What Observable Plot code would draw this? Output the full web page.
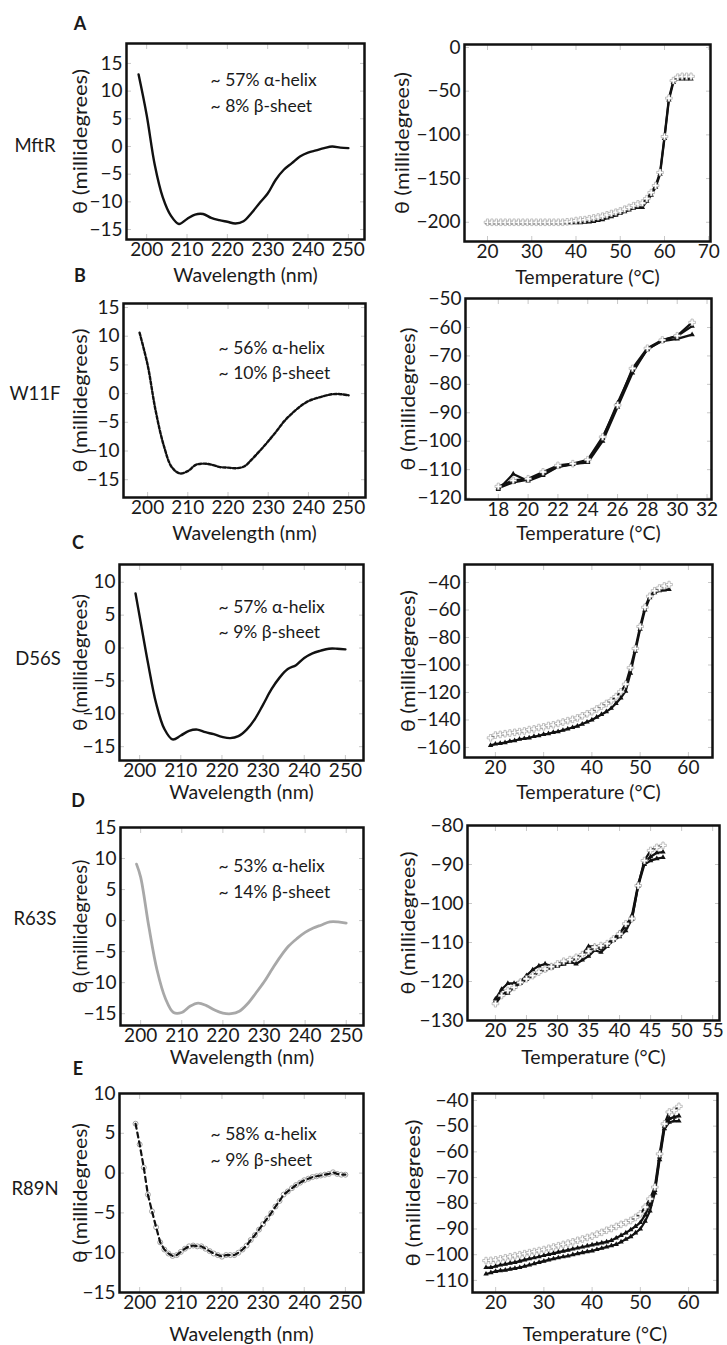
<!DOCTYPE html>
<html><head><meta charset="utf-8">
<script src="https://cdn.jsdelivr.net/npm/d3@7"></script>
<script src="https://cdn.jsdelivr.net/npm/@observablehq/plot@0.6"></script>
<style>
body{margin:0;background:#fff;font-family:Lato,"Noto Sans",sans-serif;color:#1a1a1a}
#page{position:relative;width:727px;height:1345px;overflow:hidden;background:#fff}
.lab{position:absolute;transform:translate(-50%,-50%);white-space:nowrap}
.letter{font-weight:bold;font-size:18px}
.row{font-size:18.5px}
svg{overflow:visible}
</style></head>
<body><div id="page"></div>
<script>
// ---------- labels ----------
const panelLetters = ["A","B","C","D","E"];
const variants = ["MftR","W11F","D56S","R63S","R89N"];
const helix = ["~ 57% α-helix","~ 56% α-helix","~ 57% α-helix","~ 53% α-helix","~ 58% α-helix"];
const sheet = ["~ 8% β-sheet","~ 10% β-sheet","~ 9% β-sheet","~ 14% β-sheet","~ 9% β-sheet"];
const xLabelCD = "Wavelength (nm)";
const xLabelT = "Temperature (°C)";
const yLabelAll = "θ (millidegrees)";

// ---------- CD spectra (wavelength nm, theta mdeg) ----------
const wlA = [198,200,202,204,206,208,210,212,214,216,218,220,222,224,226,228,230,232,234,236,238,240,242,244,246,248,250];
const cdA = [13.0,5.7,-3.3,-9.2,-12.5,-14.0,-13.1,-12.3,-12.2,-12.9,-13.3,-13.6,-13.9,-13.5,-12.0,-10.2,-8.5,-6.0,-4.2,-3.0,-1.8,-1.1,-0.7,-0.3,0.0,-0.2,-0.3];
const wlB = [198,200,202,204,206,208,210,212,214,216,218,220,222,224,226,228,230,232,234,236,238,240,242,244,246,248,250];
const cdB = [10.6,5.0,-3.0,-9.0,-12.8,-13.9,-13.5,-12.4,-12.2,-12.4,-12.8,-12.9,-13.0,-12.7,-11.4,-9.9,-8.3,-6.6,-4.8,-3.4,-2.2,-1.3,-0.8,-0.4,-0.1,-0.1,-0.3];
const wlC = [199,200,202,204,206,208,210,212,214,216,218,220,222,224,226,228,230,232,234,236,238,240,242,244,246,248,250];
const cdC = [8.3,4.8,-2.2,-8.4,-12.3,-13.9,-13.3,-12.6,-12.4,-12.8,-13.1,-13.5,-13.7,-13.4,-12.4,-10.8,-8.6,-6.3,-4.5,-3.2,-2.6,-1.5,-0.8,-0.4,-0.1,-0.1,-0.2];
const wlD = [199,200,202,204,206,208,210,212,214,216,218,220,222,224,226,228,230,232,234,236,238,240,242,244,246,248,250];
const cdD = [9.1,7.0,-1.0,-8.0,-12.5,-14.8,-14.8,-13.8,-13.3,-13.7,-14.4,-14.9,-15.0,-14.6,-13.4,-11.7,-9.9,-7.8,-5.8,-4.1,-2.9,-1.9,-1.2,-0.7,-0.2,-0.2,-0.4];
const wlE = [199,200,201,202,203,204,205,206,207,208,209,210,211,212,213,214,215,216,217,218,219,220,221,222,223,224,225,226,227,228,229,230,231,232,233,234,235,236,237,238,239,240,241,242,243,244,245,246,247,248,249,250];
const cdE = [6.2,3.6,0.7,-2.7,-4.8,-6.8,-8.7,-9.6,-10.1,-10.4,-10.3,-9.9,-9.5,-9.2,-9.1,-9.2,-9.2,-9.5,-9.8,-10.1,-10.3,-10.5,-10.3,-10.3,-10.3,-10.0,-9.6,-9.1,-8.4,-7.8,-7.1,-6.4,-5.7,-5.0,-4.2,-3.5,-2.7,-2.3,-1.9,-1.5,-1.2,-0.9,-0.7,-0.5,-0.4,-0.3,-0.2,-0.1,0.1,-0.1,-0.2,-0.2];

// ---------- thermal melts (temperature °C, theta mdeg) ----------
const tA = [20,21,22,23,24,25,26,27,28,29,30,31,32,33,34,35,36,37,38,39,40,41,42,43,44,45,46,47,48,49,50,51,52,53,54,55,56,57,58,59,60,61,62,63,64,65,66];
const meltA1 = [-200,-200,-200,-200,-200,-200,-200,-200,-200,-200,-200,-200,-200,-200,-200,-200,-200,-200,-199.5,-199,-198,-197.5,-197,-196,-195,-194,-193,-191.5,-190,-188.5,-187,-185,-183,-181,-179,-178,-173,-166,-158,-143,-102,-58,-38,-34,-33,-33,-33];
const meltA2 = [-200.5,-200.5,-200.5,-200.5,-200.5,-200.5,-200.5,-200.5,-200.5,-200.5,-200.5,-200.5,-200.5,-200.5,-200.5,-200.5,-200.5,-200.5,-200.5,-200.5,-200.5,-200.5,-200,-199.5,-199,-198,-197,-195,-193.5,-192,-190,-188,-186,-184,-183,-183,-176,-169,-160,-145,-104,-60,-40,-36,-36,-36,-36];

const tB = [18,19,20,21,22,23,24,25,26,27,28,29,30,31];
const meltB1 = [-115.9,-113.8,-113.2,-110.8,-108.5,-107.9,-106.5,-98.5,-87.3,-74.4,-67.3,-64.4,-62.9,-58.2];
const meltB2 = [-117,-111.5,-114,-112,-109,-108,-107.5,-100,-88,-76,-67.5,-64.8,-64,-62.5];
const meltB3 = [-116.5,-114.5,-113.5,-111.5,-109,-108.2,-107,-99,-86.5,-75,-67.8,-64.5,-63,-59.5];

const tC = [19,20,21,22,23,24,25,26,27,28,29,30,31,32,33,34,35,36,37,38,39,40,41,42,43,44,45,46,47,48,49,50,51,52,53,54,55,56];
const meltC1 = [-153,-151,-150.5,-150,-149.5,-149,-148.5,-148,-147,-146.5,-145.5,-145,-144,-143.5,-142.5,-141.5,-140.5,-139.5,-138.5,-137,-135.5,-134,-132,-130,-128,-126,-123,-119.5,-114,-102,-88,-72,-58,-50,-46,-44,-42.5,-41.5];
const meltC2 = [-158.5,-157.5,-157,-156.5,-155.5,-155,-154,-153.5,-153,-152,-151.5,-150.5,-150,-149,-148.5,-147.5,-146.5,-145.5,-144.5,-143,-141.5,-140,-138,-136,-134,-131.5,-128,-124,-119,-106,-90,-74,-60,-51,-47.5,-46,-45.5,-45];

const tD = [20,21,22,23,24,25,26,27,28,29,30,31,32,33,34,35,36,37,38,39,40,41,42,43,44,45,46,47];
const meltD1 = [-125.7,-123.6,-122.3,-121.5,-120.2,-119.3,-118.5,-117.6,-116.8,-116.2,-115.5,-114.8,-114.4,-113.8,-113.1,-112.2,-111.2,-110.8,-110.3,-109.1,-107.8,-105.2,-103.9,-95.4,-89,-86.4,-85.6,-85.1];
const meltD2 = [-124.5,-122,-120.5,-120.5,-120,-118.5,-117,-116,-115.5,-116,-116,-115.5,-115,-114,-113,-111,-111,-111.5,-110.5,-109,-107.5,-106,-103,-95,-89.5,-88,-87,-86.8];
const meltD3 = [-125,-123.5,-123,-121.5,-120.5,-119.5,-118.5,-117.5,-117,-116.5,-116,-115.5,-115,-115.5,-114.5,-113.5,-112,-112.5,-111,-109.5,-108.5,-107,-104,-95.5,-90,-89,-88.5,-88.2];

const tE = [18,19,20,21,22,23,24,25,26,27,28,29,30,31,32,33,34,35,36,37,38,39,40,41,42,43,44,45,46,47,48,49,50,51,52,53,54,55,56,57,58];
const meltE1 = [-102.3,-102.2,-102,-101.6,-101.2,-100.8,-100.4,-100,-99.6,-99.2,-98.8,-98.4,-98,-97.5,-97,-96.5,-96,-95.5,-95,-94.4,-93.9,-93.3,-92.8,-92,-91.3,-90.5,-89.8,-89,-88.2,-87.5,-86.7,-85.5,-84.1,-81.5,-78.3,-73.7,-60.8,-49.1,-44.5,-43.9,-42.3];
const meltE2 = [-105,-105,-104.5,-104,-103.7,-103.3,-103,-102.5,-102,-101.6,-101.2,-100.8,-100.3,-99.9,-99.5,-99,-98.6,-98.2,-97.8,-97.4,-97,-96.6,-96.2,-95.8,-95.4,-95,-94.5,-93.5,-92.5,-91.5,-90.3,-89,-87.5,-84.5,-80.5,-75,-62,-50,-47,-46.5,-46];
const meltE3 = [-107.5,-107,-106.5,-106.2,-106,-105.6,-105.3,-105,-104.5,-104,-103.5,-103,-102.5,-102,-101.6,-101.2,-100.8,-100.5,-100,-99.6,-99.2,-98.8,-98.5,-98,-97.5,-97,-96.5,-96,-95,-94,-93,-91.5,-90,-87,-83,-76,-63,-51,-48.5,-48,-48];

// ---------- ticks ----------
const ticksWl = [200,210,220,230,240,250];
const ticksCD15 = [-15,-10,-5,0,5,10,15];
const ticksCD10 = [-15,-10,-5,0,5,10];
const ticksTA = [20,30,40,50,60,70];
const ticksYA = [-200,-150,-100,-50,0];
const ticksTB = [18,20,22,24,26,28,30,32];
const ticksYB = [-120,-110,-100,-90,-80,-70,-60,-50];
const ticksTC = [20,30,40,50,60];
const ticksYC = [-160,-140,-120,-100,-80,-60,-40];
const ticksTD = [20,25,30,35,40,45,50,55];
const ticksYD = [-130,-120,-110,-100,-90,-80];
const ticksTE = [20,30,40,50,60];
const ticksYE = [-110,-100,-90,-80,-70,-60,-50,-40];

const rows = (xs, ys) => xs.map((x, i) => ({x, y: ys[i]}));
const page = document.getElementById("page");
const INK = "#1a1a1a";

function panel(o) {
  const [L, R, T, B] = o.frame;
  const mL = 80, mR = 8, mT = 14, mB = 56;
  const width = (R - L) + mL + mR, height = (B - T) + mT + mB;
  const chart = Plot.plot({
    width, height, marginLeft: mL, marginRight: mR, marginTop: mT, marginBottom: mB,
    style: {fontFamily: "Lato, 'Noto Sans', sans-serif", fontSize: "19px", color: INK, background: "transparent", overflow: "visible"},
    x: {domain: o.xDomain},
    y: {domain: o.yDomain},
    marks: [
      Plot.axisX(o.xTicks, {anchor: "top", tickSize: -5, stroke: "#c8c8c8", fill: "none"}),
      Plot.axisX(o.xTicks, {anchor: "bottom", tickSize: -5, stroke: "#c8c8c8", fill: "none"}),
      Plot.axisY(o.yTicks, {anchor: "left", tickSize: -5, stroke: "#c8c8c8", fill: "none"}),
      Plot.axisY(o.yTicks, {anchor: "right", tickSize: -5, stroke: "#c8c8c8", fill: "none"}),
      ...o.marks,
      Plot.axisX(o.xTicks, {anchor: "bottom", tickSize: 0, tickPadding: 3, fontSize: 19, fill: INK, label: null}),
      Plot.axisY(o.yTicks, {anchor: "left", tickSize: 0, tickPadding: 4, fontSize: 19, fill: INK, label: null}),
      Plot.text([o.xLabel], {frameAnchor: "bottom", text: d => d, dy: o.xLabelOffset, lineAnchor: "middle",
        fontSize: 19.5, fill: INK}),
      Plot.text([yLabelAll], {frameAnchor: "left", text: d => d, dx: -o.yLabelOffset, rotate: -90, lineAnchor: "middle",
        textAnchor: "middle", fontSize: 20, fill: INK}),
      o.note ? Plot.text([o.note], {frameAnchor: "top-left", text: d => d, dx: o.noteDx, dy: o.noteDy,
        textAnchor: "start", lineAnchor: "middle", lineHeight: 1.45, fontSize: 17.5, fill: INK}) : null,
      Plot.frame({stroke: "#111", strokeWidth: 2.5})
    ]
  });
  // the reference's rotated axis title is drawn longer than its glyph height suggests
  chart.querySelectorAll("text").forEach(t => {
    if (t.textContent === yLabelAll) {
      t.setAttribute("textLength", o.yLabelLength);
      t.setAttribute("lengthAdjust", "spacingAndGlyphs");
    }
  });
  chart.style.position = "absolute";
  chart.style.left = (L - mL) + "px";
  chart.style.top = (T - mT) + "px";
  page.append(chart);
}

function cdMarks(data, style) {
  if (style === "markers") {
    return [
      Plot.dot(data, {x: "x", y: "y", r: 2.5, fill: "white", stroke: "#8a8a8a", strokeWidth: 0.8}),
      Plot.line(data, {x: "x", y: "y", stroke: "#111", strokeWidth: 2.2, strokeDasharray: "5,4"})
    ];
  }
  const s = {
    solid: {stroke: "#111", strokeWidth: 2.4},
    dotted: {stroke: "#111", strokeWidth: 2.4, strokeDasharray: "3,2"},
    gray: {stroke: "#a8a8a8", strokeWidth: 2.8}
  }[style];
  return [Plot.line(data, {x: "x", y: "y", curve: "catmull-rom", ...s})];
}

function meltMarks(series) {
  const out = [];
  series.forEach((d, i) => {
    const last = i === series.length - 1;
    out.push(Plot.line(d, {x: "x", y: "y", stroke: "#111", strokeWidth: 2.2}));
    if (!last) out.push(Plot.dot(d, {x: "x", y: "y", symbol: "triangle", r: 2, fill: "#111"}));
  });
  const top = series[series.length - 1];
  out.push(Plot.dot(top, {x: "x", y: "y", symbol: "cross", r: 2.8, fill: "white", stroke: "#888", strokeWidth: 0.5}));
  return out;
}

// ---------- left column: CD spectra ----------
panel({frame: [126, 364, 43, 239], xDomain: [195, 254], yDomain: [-16.8, 18.6], xTicks: ticksWl, yTicks: ticksCD15,
  xLabel: xLabelCD, xLabelOffset: 36, yLabelOffset: 46, yLabelLength: 145, marks: cdMarks(rows(wlA, cdA), "solid"),
  note: helix[0] + "\n" + sheet[0], noteDx: 84, noteDy: 47.5});
panel({frame: [123, 365, 303, 497], xDomain: [194, 254.2], yDomain: [-18.1, 15.7], xTicks: ticksWl, yTicks: ticksCD15,
  xLabel: xLabelCD, xLabelOffset: 36, yLabelOffset: 43, yLabelLength: 144, marks: cdMarks(rows(wlB, cdB), "dotted"),
  note: helix[1] + "\n" + sheet[1], noteDx: 95, noteDy: 55});
panel({frame: [119, 363, 564, 760], xDomain: [195.1, 254.4], yDomain: [-17.1, 12.7], xTicks: ticksWl, yTicks: ticksCD10,
  xLabel: xLabelCD, xLabelOffset: 32, yLabelOffset: 39, yLabelLength: 137, marks: cdMarks(rows(wlC, cdC), "solid"),
  note: helix[2] + "\n" + sheet[2], noteDx: 99, noteDy: 53});
panel({frame: [120, 363, 827, 1025], xDomain: [195.1, 254.2], yDomain: [-16.9, 15], xTicks: ticksWl, yTicks: ticksCD15,
  xLabel: xLabelCD, xLabelOffset: 32, yLabelOffset: 40, yLabelLength: 134, marks: cdMarks(rows(wlD, cdD), "gray"),
  note: helix[3] + "\n" + sheet[3], noteDx: 98, noteDy: 49.5});
panel({frame: [119, 363, 1093, 1292], xDomain: [195.1, 254.4], yDomain: [-15, 10], xTicks: ticksWl, yTicks: ticksCD10,
  xLabel: xLabelCD, xLabelOffset: 42, yLabelOffset: 39, yLabelLength: 140, marks: cdMarks(rows(wlE, cdE), "markers"),
  note: helix[4] + "\n" + sheet[4], noteDx: 91, noteDy: 51.5});

// ---------- right column: thermal melts ----------
panel({frame: [464, 710, 44, 241], xDomain: [14.8, 70.4], yDomain: [-222, 3.4], xTicks: ticksTA, yTicks: ticksYA,
  xLabel: xLabelT, xLabelOffset: 36, yLabelOffset: 62, yLabelLength: 142, marks: meltMarks([rows(tA, meltA2), rows(tA, meltA1)])});
panel({frame: [465, 711, 298, 499], xDomain: [15.8, 32.3], yDomain: [-120.5, -49.8], xTicks: ticksTB, yTicks: ticksYB,
  xLabel: xLabelT, xLabelOffset: 34, yLabelOffset: 57, yLabelLength: 143, marks: meltMarks([rows(tB, meltB2), rows(tB, meltB3), rows(tB, meltB1)])});
panel({frame: [464, 712, 564, 757], xDomain: [13.6, 65], yDomain: [-167.3, -26.9], xTicks: ticksTC, yTicks: ticksYC,
  xLabel: xLabelT, xLabelOffset: 35, yLabelOffset: 56, yLabelLength: 142, marks: meltMarks([rows(tC, meltC2), rows(tC, meltC1)])});
panel({frame: [467, 719, 825, 1020], xDomain: [15.5, 56.1], yDomain: [-130, -80], xTicks: ticksTD, yTicks: ticksYD,
  xLabel: xLabelT, xLabelOffset: 37, yLabelOffset: 59, yLabelLength: 143, marks: meltMarks([rows(tD, meltD2), rows(tD, meltD3), rows(tD, meltD1)])});
panel({frame: [472, 717, 1093, 1292], xDomain: [15.2, 66], yDomain: [-114.7, -37.3], xTicks: ticksTE, yTicks: ticksYE,
  xLabel: xLabelT, xLabelOffset: 42, yLabelOffset: 59, yLabelLength: 147, marks: meltMarks([rows(tE, meltE3), rows(tE, meltE2), rows(tE, meltE1)])});

// ---------- panel letters and row labels ----------
const letterPos = [[80, 23], [80, 275], [78, 542], [78, 800], [78, 1068]];
const rowPos = [[35, 145], [35, 393], [38, 658], [35, 918], [35, 1188]];
panelLetters.forEach((t, i) => {
  const d = document.createElement("div");
  d.className = "lab letter"; d.textContent = t;
  d.style.left = letterPos[i][0] + "px"; d.style.top = letterPos[i][1] + "px";
  page.append(d);
});
variants.forEach((t, i) => {
  const d = document.createElement("div");
  d.className = "lab row"; d.textContent = t;
  d.style.left = rowPos[i][0] + "px"; d.style.top = rowPos[i][1] + "px";
  page.append(d);
});
</script>
</body></html>
